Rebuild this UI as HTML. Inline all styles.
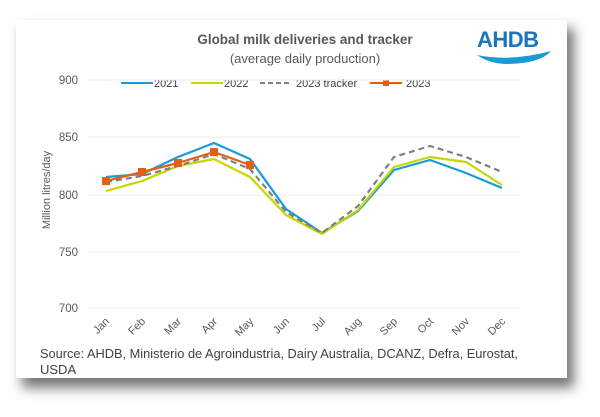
<!DOCTYPE html>
<html><head><meta charset="utf-8"><style>
body{margin:0;background:#fff;width:600px;height:412px;overflow:hidden;font-family:"Liberation Sans",sans-serif}
</style></head><body>
<svg width="600" height="412" xmlns="http://www.w3.org/2000/svg" font-family="Liberation Sans, sans-serif">
<defs><filter id="sh" x="-10%" y="-10%" width="130%" height="140%"><feGaussianBlur stdDeviation="6"/></filter></defs>
<rect x="22" y="28" width="552" height="360" fill="#777" filter="url(#sh)"/>
<rect x="16" y="20" width="551" height="358" fill="#fff"/>
<text x="305" y="44" text-anchor="middle" font-size="13.5" font-weight="bold" fill="#595959">Global milk deliveries and tracker</text>
<text x="305" y="63" text-anchor="middle" font-size="13" fill="#595959">(average daily production)</text>
<text x="477" y="47" font-size="22" fill="#1b75bc" font-weight="bold" letter-spacing="-0.5">AHDB</text>
<path d="M477 55 Q510 62 551 51 Q540 64 505 64 Q488 63 477 55Z" fill="#1b9ad6"/>
<g font-size="11" fill="#404040">
<line x1="121" y1="83" x2="153" y2="83" stroke="#1a9ad6" stroke-width="2"/><text x="154" y="87">2021</text>
<line x1="191" y1="83" x2="223" y2="83" stroke="#c5d600" stroke-width="2"/><text x="224" y="87">2022</text>
<line x1="260" y1="83" x2="292" y2="83" stroke="#808080" stroke-width="2" stroke-dasharray="5,3"/><text x="296" y="87">2023 tracker</text>
<line x1="370" y1="83" x2="402" y2="83" stroke="#e0601a" stroke-width="2"/><rect x="383" y="80" width="6" height="6" fill="#e0601a"/><text x="406" y="87">2023</text>
</g>
<g stroke="#ececec" stroke-width="1">
<line x1="88" y1="80" x2="520" y2="80"/><line x1="88" y1="137" x2="520" y2="137"/><line x1="88" y1="195" x2="520" y2="195"/><line x1="88" y1="252" x2="520" y2="252"/><line x1="88" y1="308" x2="520" y2="308"/>
</g>
<g font-size="11.5" fill="#595959" text-anchor="end">
<text x="78" y="84">900</text><text x="78" y="141">850</text><text x="78" y="199">800</text><text x="78" y="256">750</text><text x="78" y="312">700</text>
</g>
<text transform="translate(50,190) rotate(-90)" text-anchor="middle" font-size="11" fill="#595959">Million litres/day</text>
<g font-size="11" fill="#595959" text-anchor="end">
<text transform="translate(110,322) rotate(-45)">Jan</text><text transform="translate(146,322) rotate(-45)">Feb</text><text transform="translate(182,322) rotate(-45)">Mar</text><text transform="translate(218,322) rotate(-45)">Apr</text><text transform="translate(254,322) rotate(-45)">May</text><text transform="translate(290,322) rotate(-45)">Jun</text><text transform="translate(326,322) rotate(-45)">Jul</text><text transform="translate(362,322) rotate(-45)">Aug</text><text transform="translate(398,322) rotate(-45)">Sep</text><text transform="translate(434,322) rotate(-45)">Oct</text><text transform="translate(470,322) rotate(-45)">Nov</text><text transform="translate(506,322) rotate(-45)">Dec</text>
</g>
<g fill="none" stroke-width="2.2" stroke-linejoin="round">
<polyline stroke="#1a9ad6" points="106,177 142,174 178,157 214,143 250,159 286,209 322,233 358,211 394,170 430,160 466,173 502,188"/>
<polyline stroke="#c5d600" points="106,191 142,181 178,166 214,159 250,177 286,215 322,234 358,210 394,167 430,157 466,162 502,185"/>
<polyline stroke="#808080" stroke-dasharray="6,4" points="106,182 142,176 178,166 214,154 250,169 286,212 322,233 358,206 394,157 430,146 466,157 502,172"/>
<polyline stroke="#e0601a" points="106,181 142,172 178,163 214,152 250,165"/>
</g>
<g fill="#e0601a">
<rect x="102" y="177" width="8" height="8"/><rect x="138" y="168" width="8" height="8"/><rect x="174" y="159" width="8" height="8"/><rect x="210" y="148" width="8" height="8"/><rect x="246" y="161" width="8" height="8"/>
</g>
<text x="40" y="358" font-size="13" fill="#404040" textLength="478" lengthAdjust="spacingAndGlyphs">Source: AHDB, Ministerio de Agroindustria, Dairy Australia, DCANZ, Defra, Eurostat,</text>
<text x="40" y="374" font-size="13" fill="#404040">USDA</text>
</svg>
</body></html>
